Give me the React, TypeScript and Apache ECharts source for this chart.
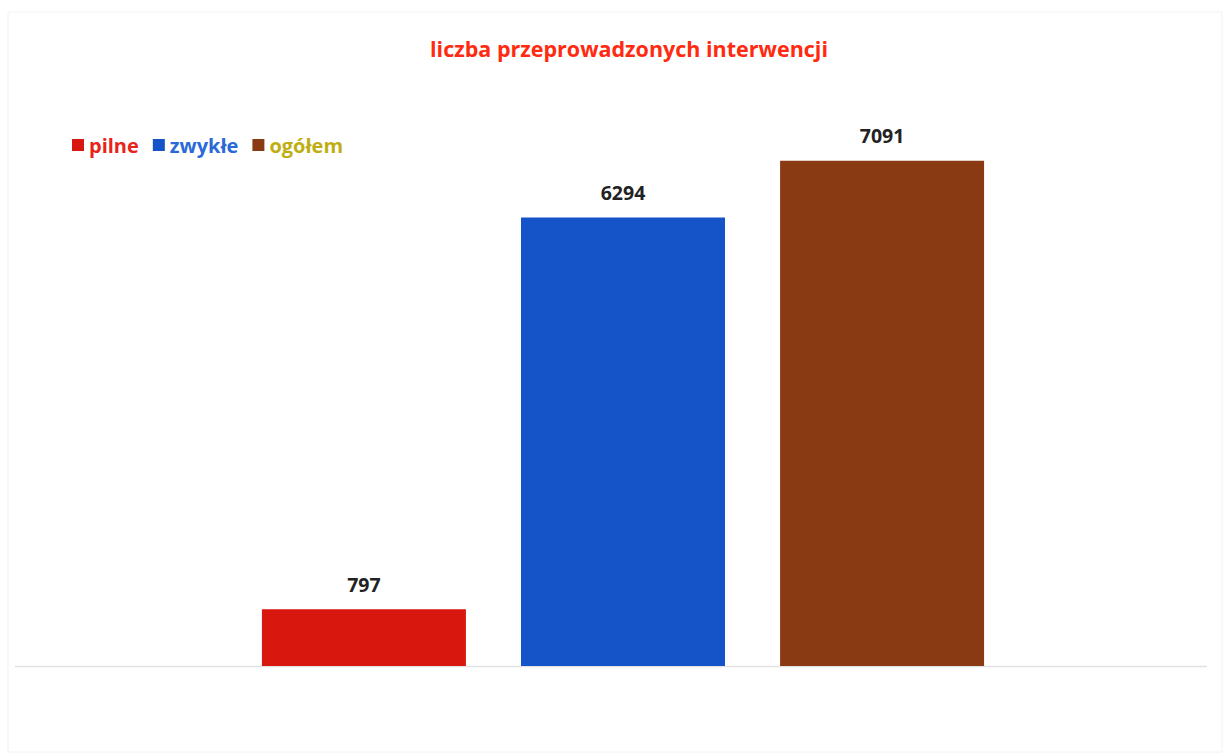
import React, { useEffect, useRef } from "react";
import * as echarts from "echarts";

const categories = ["interwencje"];
const seriesNames = ["pilne", "zwykłe", "ogółem"];
const pilneValues = [797];
const zwykleValues = [6294];
const ogolemValues = [7091];
const barColors = ["#d8170f", "#1453c8", "#8a3a12"];
const legendColors = ["#e8231a", "#2a6ad8", "#bfae12"];
const titleText = "liczba przeprowadzonych interwencji";

export default function App() {
  const ref = useRef<HTMLDivElement>(null);
  useEffect(() => {
    const chart = echarts.init(ref.current!, null, { renderer: "svg" });
    const values = [pilneValues, zwykleValues, ogolemValues];
    const gridTop = 96;
    const gridBottom = 90;
    const H = 756;
    const axisY = H - gridBottom;
    chart.setOption({
      animation: false,
      backgroundColor: "#ffffff",
      title: {
        text: titleText,
        left: 624,
        textAlign: "center",
        top: 32,
        textStyle: {
          color: "#ff2a10",
          fontFamily: "Open Sans",
          fontWeight: "bold",
          fontSize: 21.5,
        },
      },
      legend: {
        left: 67,
        top: 130,
        itemWidth: 12,
        itemHeight: 12,
        itemGap: 14,
        icon: "rect",
        data: seriesNames.map((n, i) => ({
          name: n,
          textStyle: { color: legendColors[i] },
        })),
        textStyle: {
          fontFamily: "Open Sans",
          fontWeight: "bold",
          fontSize: 20,
          padding: [0, 0, 0, 0],
        },
      },
      grid: { left: 40, right: 20, top: gridTop, bottom: gridBottom },
      xAxis: {
        type: "category",
        data: categories,
        axisLine: { show: false },
        axisTick: { show: false },
        axisLabel: { show: false },
      },
      yAxis: {
        type: "value",
        min: 0,
        max: 8000,
        show: false,
        splitLine: { show: false },
      },
      graphic: [
        {
          type: "rect",
          shape: { x: 8, y: 12, width: 1214, height: 740 },
          style: { fill: "none", stroke: "#f2f2f2", lineWidth: 1 },
          z: 0,
        },
        {
          type: "line",
          shape: { x1: 15, y1: axisY + 0.5, x2: 1207, y2: axisY + 0.5 },
          style: { stroke: "#e2e2e2", lineWidth: 1.5 },
          z: 0,
        },
      ],
      series: seriesNames.map((n, i) => ({
        name: n,
        type: "bar",
        data: values[i],
        barWidth: 204,
        barGap: "27%",
        itemStyle: { color: barColors[i] },
        z: 2,
        label: {
          show: true,
          position: "top",
          distance: 15,
          color: "#222222",
          fontFamily: "Open Sans",
          fontWeight: "bold",
          fontSize: 19.5,
        },
      })),
    });
    return () => chart.dispose();
  }, []);
  return (
    <div
      ref={ref}
      style={{ position: "fixed", left: 0, top: 0, width: 1226, height: 756 }}
    />
  );
}
